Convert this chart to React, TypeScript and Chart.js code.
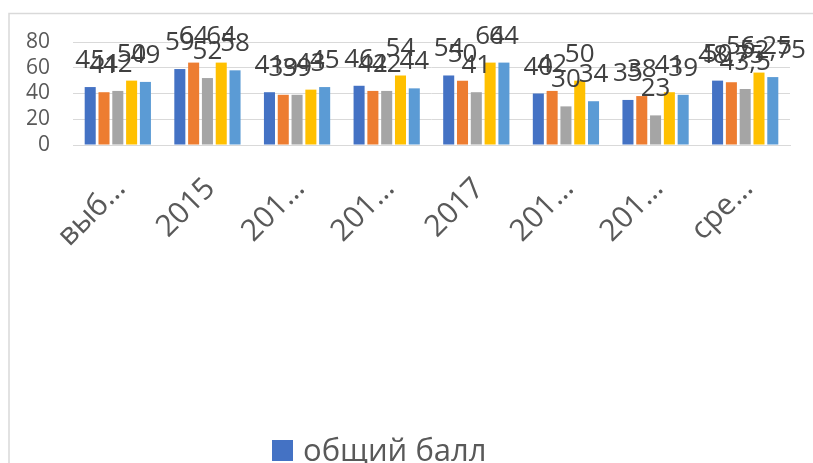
import React, { useEffect, useRef } from "react";
import { Chart, registerables } from "chart.js";

Chart.register(...registerables);

const categories = ["выб…", "2015", "201…", "201…", "2017", "201…", "201…", "сре…"];
const seriesNames = ["общий балл", "Ряд 2", "Ряд 3", "Ряд 4", "Ряд 5"];
const series1 = [45, 59, 41, 46, 54, 40, 35, 50];
const series2 = [41, 64, 39, 42, 50, 42, 38, 48.75];
const series3 = [42, 52, 39, 42, 41, 30, 23, 43.5];
const series4 = [50, 64, 43, 54, 64, 50, 41, 56.25];
const series5 = [49, 58, 45, 44, 64, 34, 39, 52.75];
const yMin = 0;
const yMax = 80;
const yStep = 20;

const seriesColors = ["#4472C4", "#ED7D31", "#A5A5A5", "#FFC000", "#5B9BD5"];
const FONT = "'Open Sans', 'Noto Sans', sans-serif";

const framePlugin = {
  id: "frame",
  beforeDraw(chart: any) {
    const ctx = chart.ctx;
    ctx.save();
    ctx.fillStyle = "#ffffff";
    ctx.fillRect(0, 0, chart.width, chart.height);
    ctx.strokeStyle = "#d9d9d9";
    ctx.lineWidth = 1.5;
    ctx.strokeRect(9, 13.5, chart.width + 100, chart.height + 100);
    ctx.restore();
  },
};

const dataLabelPlugin = {
  id: "dataLabels",
  afterDatasetsDraw(chart: any) {
    const ctx = chart.ctx;
    ctx.save();
    ctx.font = `26px ${FONT}`;
    ctx.fillStyle = "#404040";
    ctx.textAlign = "center";
    ctx.textBaseline = "alphabetic";
    chart.data.datasets.forEach((ds: any, di: number) => {
      const meta = chart.getDatasetMeta(di);
      meta.data.forEach((bar: any, i: number) => {
        const v = ds.data[i];
        const txt = String(v).replace(".", ",");
        ctx.fillText(txt, bar.x, bar.y - 19);
      });
    });
    ctx.restore();
  },
};

const legendPlugin = {
  id: "customLegend",
  afterDraw(chart: any) {
    const ctx = chart.ctx;
    const ds = chart.data.datasets[0];
    ctx.save();
    ctx.fillStyle = ds.backgroundColor;
    ctx.fillRect(272, 440, 21, 21);
    ctx.font = `31px ${FONT}`;
    ctx.fillStyle = "#595959";
    ctx.textAlign = "left";
    ctx.textBaseline = "alphabetic";
    ctx.fillText(ds.label, 303, 461);
    ctx.restore();
  },
};

export default function App() {
  const canvasRef = useRef<HTMLCanvasElement | null>(null);

  useEffect(() => {
    if (!canvasRef.current) return;
    const allSeries = [series1, series2, series3, series4, series5];
    const chart = new Chart(canvasRef.current, {
      type: "bar",
      data: {
        labels: categories,
        datasets: allSeries.map((d, i) => ({
          label: seriesNames[i],
          data: d,
          backgroundColor: seriesColors[i],
          borderWidth: 0,
          barPercentage: 0.8,
          categoryPercentage: 0.77,
        })),
      },
      options: {
        animation: false,
        responsive: false,
        devicePixelRatio: 1,
        layout: { padding: { top: 42, right: 23, left: 0, bottom: 0 } },
        plugins: {
          legend: { display: false },
          tooltip: { enabled: false },
        },
        scales: {
          x: {
            grid: { display: false },
            border: { display: true, color: "#d9d9d9", width: 1 },
            ticks: {
              autoSkip: false,
              minRotation: 45,
              maxRotation: 45,
              labelOffset: 3,
              padding: 18,
              color: "#595959",
              font: { family: FONT, size: 30 },
            },
            afterFit: (s: any) => {
              s.height = 463 - 145;
            },
          },
          y: {
            min: yMin,
            max: yMax,
            border: { display: false },
            grid: { color: "#d9d9d9", lineWidth: 1, drawTicks: false },
            ticks: {
              autoSkip: false,
              stepSize: yStep,
              padding: 23,
              color: "#595959",
              font: { family: FONT, size: 21 },
            },
            afterFit: (s: any) => {
              s.width = 73;
            },
          },
        },
      },
      plugins: [framePlugin, dataLabelPlugin, legendPlugin],
    });
    return () => chart.destroy();
  }, []);

  return (
    <div style={{ position: "absolute", left: 0, top: 0, width: 813, height: 463, background: "#fff" }}>
      <canvas ref={canvasRef} width={813} height={463} style={{ display: "block" }} />
    </div>
  );
}
